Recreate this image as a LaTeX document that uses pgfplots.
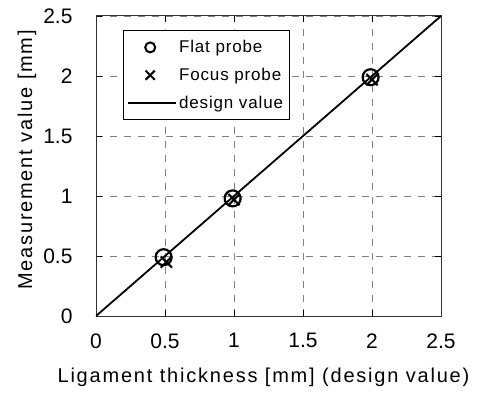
\documentclass[border=0pt]{standalone}
\usepackage{pgfplots}
\pgfplotsset{compat=1.18}
\usepackage{fontspec}
\setmainfont{Liberation Sans}
\begin{document}
\begin{tikzpicture}[x=1bp,y=1bp]
\begin{axis}[
  at={(0,0)}, anchor=south west,
  scale only axis,
  width=345bp, height=300bp,
  xmin=0, xmax=2.5, ymin=0, ymax=2.5,
  xtick={0,0.5,...,2.5}, ytick={0,0.5,...,2.5},
  xticklabels={0,0.5,1,1.5,2,2.5},
  yticklabels={0,0.5,1,1.5,2,2.5},
  tick align=inside,
  major tick length=6bp,
  tick style={black, line width=0.8pt},
  grid=major,
  major grid style={gray, line width=0.8pt, dash pattern=on 7bp off 7bp},
  axis line style={line width=1pt, black!80},
  ticklabel style={font=\fontsize{21bp}{24bp}\selectfont},
  label style={font=\fontsize{20bp}{23bp}\selectfont\addfontfeatures{LetterSpace=9}},
  xlabel={Ligament thickness [mm] (design value)},
  ylabel={Measurement value [mm]},
  xticklabel style={yshift=-14bp},
  yticklabel style={xshift=-20bp},
  xlabel style={at={(axis description cs:0.4855,-0.223)}, anchor=base},
  ylabel style={at={(axis description cs:-0.1855,0.52)}, anchor=base},
  legend style={at={(axis description cs:0.078,0.953)}, anchor=north west, font=\fontsize{17bp}{20bp}\selectfont\addfontfeatures{LetterSpace=5}, draw=black, line width=0.8pt, row sep=10bp, inner xsep=4bp, inner ysep=8bp},
  legend cell align=left,
  /pgf/number format/assume math mode=true,
]
\addplot[only marks, mark=o, mark size=8bp, line width=2.2pt, black,
  legend image code/.code={\path[draw=none] (0bp,0bp) -- (46bp,0bp); \draw[line width=2pt] plot[only marks, mark size=5bp, mark options={line width=2pt}] coordinates {(22bp,0bp)};}]
  coordinates {(0.49,0.49) (0.99,0.98) (1.99,1.99)};
\addlegendentry{Flat probe}
\addplot[only marks, mark=x, mark size=8bp, line width=2pt, black,
  legend image code/.code={\path[draw=none] (0bp,0bp) -- (46bp,0bp); \draw[line width=2pt] plot[only marks, mark size=6.5bp, mark options={line width=2pt}] coordinates {(22bp,0bp)};}]
  coordinates {(0.51,0.45) (1.0,0.97) (2.0,1.97)};
\addlegendentry{Focus probe}
\addplot[black, line width=1.8pt, no marks,
  legend image code/.code={\draw[line width=1.8pt] (0bp,0bp) -- (48bp,0bp);}]
  coordinates {(0,0) (2.5,2.5)};
\addlegendentry{design value}
\end{axis}
\pgfresetboundingbox
\path (-96bp,-80bp) rectangle (387bp,316bp);
\end{tikzpicture}
\end{document}
